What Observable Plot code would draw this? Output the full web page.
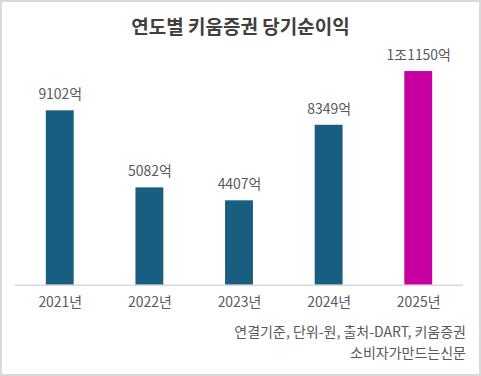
<!DOCTYPE html>
<html>
<head>
<meta charset="utf-8">
<script src="https://cdn.jsdelivr.net/npm/d3@7"></script>
<script src="https://cdn.jsdelivr.net/npm/@observablehq/plot@0.6"></script>
<style>
  body { margin: 0; background: #fff; }
  #wrap { position: relative; width: 481px; height: 376px; box-sizing: border-box; border: 2px solid #d9d9d9; background: #fff; font-family: "Noto Sans CJK KR", "Noto Sans", sans-serif; overflow: hidden; }
  #chart { position: absolute; left: -2px; top: -2px; }
  #title { position: absolute; left: 0; right: 0; top: 10px; text-align: center; font-size: 19px; font-weight: bold; color: #404040; }
  #caption { position: absolute; right: 13px; top: 319px; text-align: right; font-size: 14px; line-height: 21px; color: #595959; }
</style>
</head>
<body>
<div id="wrap">
  <div id="chart"></div>
  <div id="title">연도별 키움증권 당기순이익</div>
  <div id="caption">연결기준, 단위-원, 출처-DART, 키움증권<br>소비자가만드는신문</div>
</div>
<script>
const years = ["2021년", "2022년", "2023년", "2024년", "2025년"];
const values = [9102, 5082, 4407, 8349, 11150];
const labels = ["9102억", "5082억", "4407억", "8349억", "1조1150억"];
const colors = ["#185e80", "#185e80", "#185e80", "#185e80", "#c800a1"];

const data = years.map((y, i) => ({year: y, value: values[i], label: labels[i], color: colors[i]}));

const chart = Plot.plot({
  width: 481,
  height: 376,
  marginTop: 55,
  marginBottom: 90,
  marginLeft: 15,
  marginRight: 16,
  style: {fontFamily: '"Noto Sans CJK KR", sans-serif', fontSize: "14px", color: "#595959", background: "transparent"},
  x: {domain: years, paddingInner: 0.69, paddingOuter: 0.345, label: null, tickSize: 0, tickPadding: 12},
  y: {domain: [0, 12000], axis: null},
  marks: [
    Plot.barY(data, {x: "year", y: "value", fill: "color"}),
    Plot.ruleY([0], {stroke: "#d9d9d9", strokeWidth: 1.5}),
    Plot.text(data, {x: "year", y: "value", text: "label", dy: -16, fill: "#595959", fontSize: 14})
  ]
});
document.getElementById("chart").appendChild(chart);
</script>
</body>
</html>
